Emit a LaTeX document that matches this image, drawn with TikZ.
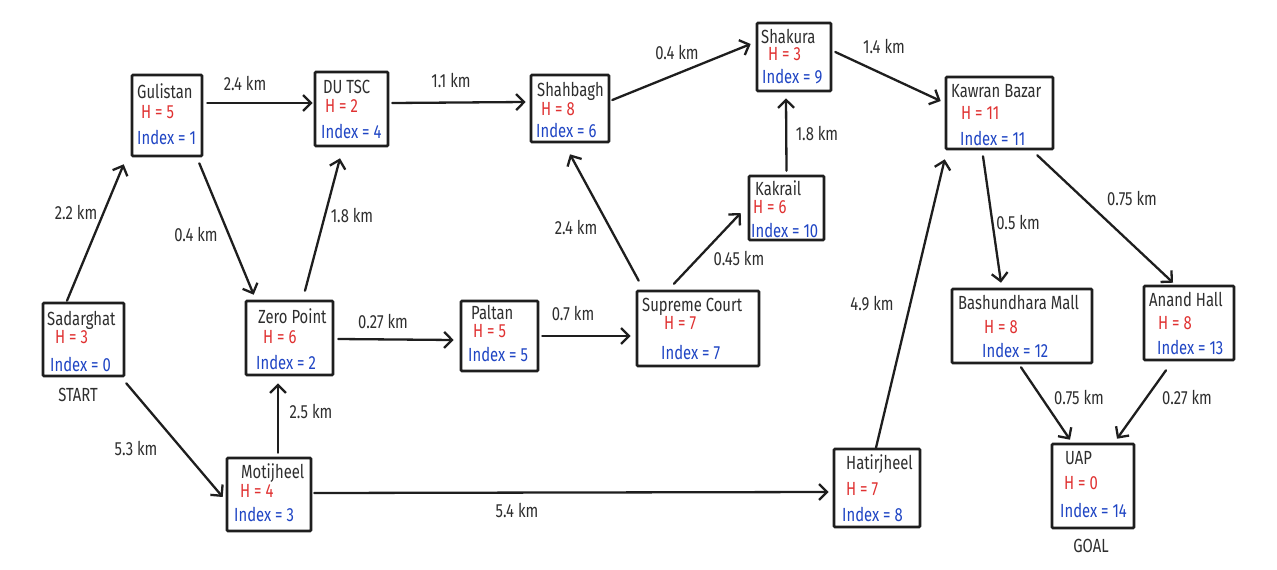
\documentclass[tikz,border=0pt]{standalone}
\usepackage{fontspec}
\setmainfont{Fira Sans}[FakeStretch=0.78]
\usetikzlibrary{arrows.meta}
\definecolor{ink}{HTML}{1E1E1E}
\definecolor{txt}{HTML}{2E2E2E}
\definecolor{hred}{HTML}{E03131}
\definecolor{iblue}{HTML}{1F45C4}

\begin{document}
\begin{tikzpicture}[x=1pt, y=-1pt,
	box/.style={draw=ink, line width=2.6pt, rounded corners=1pt, inner sep=0pt},
	ttl/.style={anchor=base west, inner sep=0pt, text=txt, font=\fontsize{19}{22}\selectfont},
	hval/.style={ttl, text=hred},
	ival/.style={ttl, text=iblue},
	dist/.style={inner sep=0pt, text=txt, font=\fontsize{19}{22}\selectfont},
	edge/.style={draw=ink, line width=2.3pt, line cap=round, -{Straight Barb[length=8pt, width=16pt, line width=2.3pt]}}]
		%%%%% START %%%%%
		
		\useasboundingbox[fill=white] (0, 0) rectangle (1277, 570);
		
		% places
		\node[box, minimum width=81, minimum height=73] (sad) at (83.5, 339.5) {};
		\node[box, minimum width=70, minimum height=81] (gul) at (167, 115.5) {};
		\node[box, minimum width=73, minimum height=74] (dut) at (351.5, 109) {};
		\node[box, minimum width=87, minimum height=74] (zer) at (289.5, 338) {};
		\node[box, minimum width=84, minimum height=73] (mot) at (269, 494.5) {};
		\node[box, minimum width=78, minimum height=67] (sha) at (570, 108.5) {};
		\node[box, minimum width=74, minimum height=68] (shk) at (794, 57) {};
		\node[box, minimum width=75, minimum height=64] (kak) at (786.5, 208) {};
		\node[box, minimum width=77, minimum height=70] (pal) at (499.5, 336) {};
		\node[box, minimum width=122, minimum height=75] (sup) at (698, 328.5) {};
		\node[box, minimum width=107, minimum height=72] (kaw) at (999.5, 113) {};
		\node[box, minimum width=140, minimum height=74] (bas) at (1022, 326) {};
		\node[box, minimum width=90, minimum height=74] (ana) at (1189, 323) {};
		\node[box, minimum width=86, minimum height=78] (hat) at (877, 488) {};
		\node[box, minimum width=82, minimum height=84] (uap) at (1093, 486) {};
		
		% texts in the places
		\node[ttl] (sad-t) at (47, 325) {Sadarghat};
		\node[hval] (sad-h) at (55, 343) {H = 3};
		\node[ival] (sad-i) at (50, 371) {Index = 0};
		\node[ttl] (gul-t) at (137, 98) {Gulistan};
		\node[hval] (gul-h) at (141, 118) {H = 5};
		\node[ival] (gul-i) at (137, 144) {Index = 1};
		\node[ttl] (dut-t) at (323, 93) {DU TSC};
		\node[hval] (dut-h) at (325, 112) {H = 2};
		\node[ival] (dut-i) at (321, 138) {Index = 4};
		\node[ttl] (zer-t) at (258, 323) {Zero Point};
		\node[hval] (zer-h) at (263, 343) {H = 6};
		\node[ival] (zer-i) at (256, 369) {Index = 2};
		\node[ttl] (mot-t) at (241, 478) {Motijheel};
		\node[hval] (mot-h) at (240, 497) {H = 4};
		\node[ival] (mot-i) at (234, 521) {Index = 3};
		\node[ttl] (sha-t) at (537, 96) {Shahbagh};
		\node[hval] (sha-h) at (541, 115) {H = 8};
		\node[ival] (sha-i) at (536, 137) {Index = 6};
		\node[ttl] (shk-t) at (761, 43) {Shakura};
		\node[hval] (shk-h) at (768, 60) {H = 3};
		\node[ival] (shk-i) at (762, 83) {Index = 9};
		\node[ttl] (kak-t) at (755, 195) {Kakrail};
		\node[hval] (kak-h) at (753, 213) {H = 6};
		\node[ival] (kak-i) at (751, 237) {Index = 10};
		\node[ttl] (pal-t) at (471, 319.5) {Paltan};
		\node[hval] (pal-h) at (473, 337) {H = 5};
		\node[ival] (pal-i) at (468, 361.5) {Index = 5};
		\node[ttl] (sup-t) at (642, 311) {Supreme Court};
		\node[hval] (sup-h) at (664, 329) {H = 7};
		\node[ival] (sup-i) at (661, 359) {Index = 7};
		\node[ttl] (kaw-t) at (951, 97) {Kawran Bazar};
		\node[hval] (kaw-h) at (961, 119) {H = 11};
		\node[ival] (kaw-i) at (960, 145) {Index = 11};
		\node[ttl] (bas-t) at (958, 309) {Bashundhara Mall};
		\node[hval] (bas-h) at (984, 333) {H = 8};
		\node[ival] (bas-i) at (982, 357) {Index = 12};
		\node[ttl] (ana-t) at (1149, 306) {Anand Hall};
		\node[hval] (ana-h) at (1158, 329) {H = 8};
		\node[ival] (ana-i) at (1157, 354) {Index = 13};
		\node[ttl] (hat-t) at (846, 469) {Hatirjheel};
		\node[hval] (hat-h) at (846, 495) {H = 7};
		\node[ival] (hat-i) at (842, 521) {Index = 8};
		\node[ttl] (uap-t) at (1065, 464) {UAP};
		\node[hval] (uap-h) at (1064, 489) {H = 0};
		\node[ival] (uap-i) at (1060, 517) {Index = 14};
		
		\node[dist] (start) at (78, 395) {START};
		\node[dist] (goal) at (1091, 546) {GOAL};
		
		% roads
		\draw[edge] ([xshift=-16.5, yshift=1]sad.north) -- ([xshift=-7, yshift=-7]gul.south west);
		\draw[edge] ([xshift=4, yshift=12.5]gul.east) -- ([xshift=-1, yshift=6]dut.west);
		\draw[edge] ([xshift=-4, yshift=-6]gul.south east) -- ([xshift=9, yshift=5]zer.north west);
		\draw[edge] ([xshift=15.5, yshift=9]zer.north) -- ([xshift=-11.5, yshift=-11]dut.south);
		\draw[edge] ([xshift=1, yshift=-6]sad.south east) -- ([xshift=-3, yshift=-2.5]mot.west);
		\draw[edge] ([xshift=9, yshift=4]mot.north) -- ([xshift=-11.5, yshift=-7]zer.south);
		\draw[edge] ([xshift=4, yshift=-1]zer.east) -- ([xshift=-6, yshift=-4]pal.west);
		\draw[edge] ([xshift=3, yshift=6]dut.east) -- ([xshift=-4, yshift=6.5]sha.west);
		\draw[edge] ([xshift=3]pal.east) -- ([xshift=-5, yshift=-7.5]sup.west);
		\draw[edge] ([xshift=3, yshift=9]sup.north west) -- ([yshift=-11]sha.south);
		\draw[edge] ([xshift=-24, yshift=6]sup.north) -- ([xshift=-7, yshift=-5]kak.west);
		\draw[edge] ([yshift=4]kak.north) -- ([xshift=-8, yshift=-6]shk.south);
		\draw[edge] ([xshift=2, yshift=8.5]sha.east) -- ([xshift=-5, yshift=13]shk.west);
		\draw[edge] ([xshift=3, yshift=5]shk.east) -- ([xshift=-4, yshift=12]kaw.west);
		\draw[edge] ([xshift=2, yshift=1.5]mot.east) -- ([xshift=-4, yshift=-4]hat.west);
		\draw[edge] ([xshift=-1]hat.north) -- ([yshift=-9]kaw.south west);
		\draw[edge] ([xshift=-16.5, yshift=-6]kaw.south) -- ([xshift=-21, yshift=5]bas.north);
		\draw[edge] ([xshift=-17, yshift=-5]kaw.south east) -- ([xshift=-16, yshift=2]ana.north);
		\draw[edge] ([xshift=-1, yshift=-3]bas.south) -- ([xshift=-23, yshift=3]uap.north);
		\draw[edge] ([xshift=-23, yshift=-9]ana.south) -- ([xshift=24, yshift=4]uap.north);
		
		% distances
		\node[dist] (d-sad-gul) at (76, 212) {2.2 km};
		\node[dist] (d-gul-dut) at (245, 83) {2.4 km};
		\node[dist] (d-gul-zer) at (196, 234) {0.4 km};
		\node[dist] (d-zer-dut) at (352, 215) {1.8 km};
		\node[dist] (d-sad-mot) at (136, 448) {5.3 km};
		\node[dist] (d-mot-zer) at (311, 411) {2.5 km};
		\node[dist] (d-zer-pal) at (383, 321) {0.27 km};
		\node[dist] (d-dut-sha) at (451, 80) {1.1 km};
		\node[dist] (d-pal-sup) at (573, 313) {0.7 km};
		\node[dist] (d-sup-sha) at (576, 227) {2.4 km};
		\node[dist] (d-sup-kak) at (739, 258) {0.45 km};
		\node[dist] (d-kak-shk) at (817, 133) {1.8 km};
		\node[dist] (d-sha-shk) at (677, 52) {0.4 km};
		\node[dist] (d-shk-kaw) at (884, 46) {1.4 km};
		\node[dist] (d-mot-hat) at (517, 510) {5.4 km};
		\node[dist] (d-hat-kaw) at (872, 304) {4.9 km};
		\node[dist] (d-kaw-bas) at (1018, 222) {0.5 km};
		\node[dist] (d-kaw-ana) at (1132, 198) {0.75 km};
		\node[dist] (d-bas-uap) at (1079, 397) {0.75 km};
		\node[dist] (d-ana-uap) at (1187, 397) {0.27 km};
		
		%%%%% END %%%%%
	\end{tikzpicture}
\end{document}
